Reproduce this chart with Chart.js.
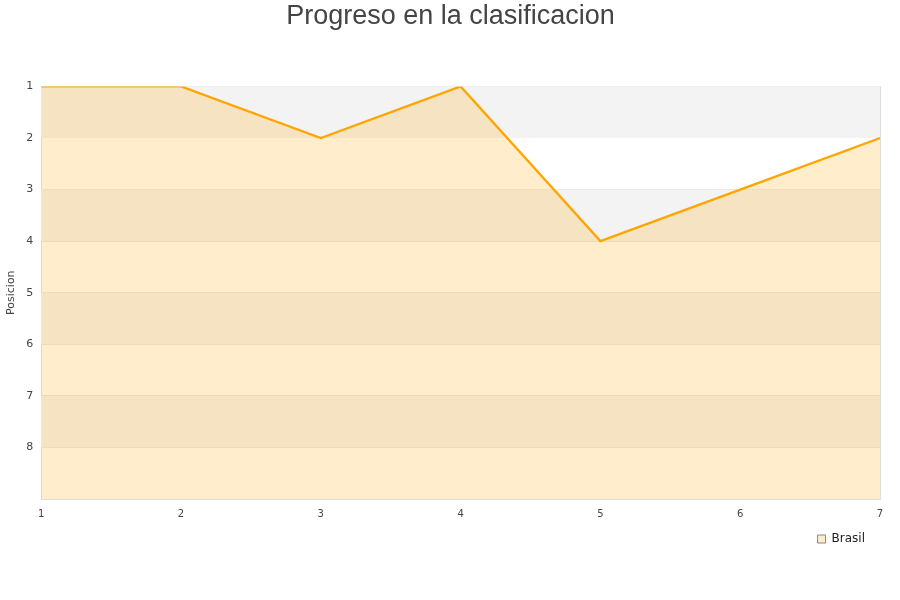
<!DOCTYPE html>
<html>
<head>
<meta charset="utf-8">
<script src="https://cdn.jsdelivr.net/npm/chart.js@4/dist/chart.umd.min.js"></script>
<style>
  html, body { margin: 0; padding: 0; background: #fff; }
  #wrap { width: 900px; height: 600px; }
</style>
</head>
<body>
<div id="wrap"><canvas id="chartPos"></canvas></div>
<script>
var jornadas = [1, 2, 3, 4, 5, 6, 7];
var posiciones = [1, 1, 2, 1, 4, 3, 2];
var posMin = 1;
var posMax = 9;

// bandas grises alternas detras del area
var bandas = {
    id: "bandas",
    beforeDatasetsDraw: function (chart) {
        var ctx = chart.ctx;
        var area = chart.chartArea;
        var y = chart.scales.y;
        ctx.save();
        for (var v = posMin; v < posMax; v += 2) {
            var y1 = y.getPixelForValue(v);
            var y2 = y.getPixelForValue(v + 1);
            ctx.fillStyle = "#f3f3f3";
            ctx.fillRect(area.left, Math.min(y1, y2), area.right - area.left, Math.abs(y2 - y1));
        }
        ctx.restore();
    }
};

// mover un poco la leyenda y el titulo
var mover = {
    id: "mover",
    afterLayout: function (chart) {
        var l = chart.legend;
        l.left -= 10;
        l.right -= 10;
        l.top -= 1;
        l.bottom -= 1;
        var t = chart.titleBlock;
        t.left += 9;
        t.right += 9;
    }
};

var ctx = document.getElementById("chartPos").getContext("2d");
var chart = new Chart(ctx, {
    type: "line",
    data: {
        labels: jornadas,
        datasets: [
            {
                label: "Brasil",
                data: jornadas.map(function (j, i) { return { x: j, y: posiciones[i] }; }),
                borderColor: "#ffa500",
                backgroundColor: "rgba(255,165,0,0.2)",
                borderWidth: 2.3,
                pointRadius: 0,
                tension: 0,
                fill: { value: posMax }
            }
        ]
    },
    options: {
        responsive: true,
        maintainAspectRatio: false,
        animation: false,
        layout: { padding: { left: 3, right: 20, top: 0, bottom: 44 } },
        plugins: {
            title: {
                display: true,
                text: "Progreso en la clasificacion",
                color: "#444",
                font: { family: "'Liberation Sans', Arial", size: 27, weight: "normal" },
                padding: { top: 0, bottom: 54 }
            },
            legend: {
                position: "bottom",
                align: "end",
                labels: {
                    color: "#222",
                    font: { family: "'DejaVu Sans'", size: 12 },
                    boxWidth: 8,
                    boxHeight: 8,
                    padding: 5,
                    generateLabels: function (c) {
                        return [{
                            text: "Brasil",
                            fillStyle: "#ffeccb",
                            strokeStyle: "#888",
                            lineWidth: 1,
                            fontColor: "#222"
                        }];
                    }
                }
            },
            tooltip: { enabled: false }
        },
        scales: {
            x: {
                type: "linear",
                min: 1,
                max: 7,
                ticks: { stepSize: 1, padding: 9, color: "#444", font: { family: "'DejaVu Sans'", size: 10 } },
                grid: { display: false, drawTicks: false },
                border: { color: "#ddd" }
            },
            y: {
                reverse: true,
                min: posMin,
                max: posMax,
                title: {
                    display: true,
                    text: "Posicion",
                    color: "#444",
                    font: { family: "'DejaVu Sans'", size: 11 },
                    padding: { top: 2, bottom: 0 }
                },
                ticks: {
                    stepSize: 1,
                    color: "#444",
                    font: { family: "'DejaVu Sans'", size: 11 },
                    padding: 8,
                    callback: function (v) { return v < posMax ? v : ""; }
                },
                grid: { color: "#e4e4e4", drawTicks: false },
                border: { color: "#ddd" }
            }
        }
    },
    plugins: [bandas, mover, {
        id: "marco",
        afterDraw: function (chart) {
            var a = chart.chartArea;
            var c = chart.ctx;
            c.save();
            c.strokeStyle = "#ddd";
            c.lineWidth = 1;
            c.beginPath();
            c.moveTo(a.right + 0.5, a.top);
            c.lineTo(a.right + 0.5, a.bottom);
            c.stroke();
            c.restore();
        }
    }]
});
</script>
</body>
</html>
